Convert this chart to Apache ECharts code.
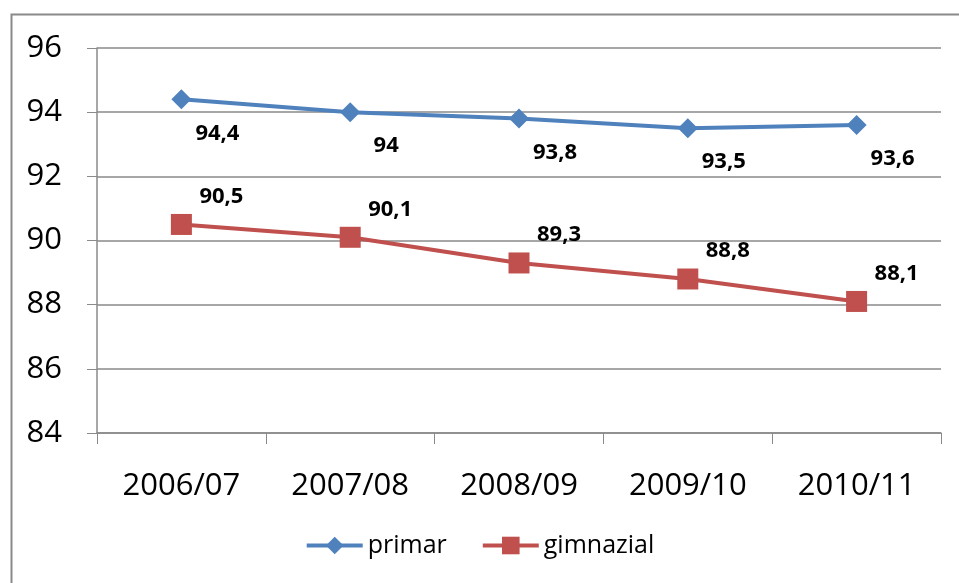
<!DOCTYPE html>
<html>
<head>
<meta charset="utf-8">
<script src="https://cdn.jsdelivr.net/npm/echarts@6/dist/echarts.min.js"></script>
<style>
  html, body { margin: 0; padding: 0; background: #fff; }
  #chart { width: 959px; height: 583px; }
</style>
</head>
<body>
<div id="chart"></div>
<script>
const years = ["2006/07", "2007/08", "2008/09", "2009/10", "2010/11"];
const primar = [94.4, 94, 93.8, 93.5, 93.6];
const gimnazial = [90.5, 90.1, 89.3, 88.8, 88.1];

const font = "'Open Sans', sans-serif";
const comma = (p) => String(p.value).replace(".", ",");

const chart = echarts.init(document.getElementById("chart"));
chart.setOption({
  animation: false,
  backgroundColor: "#fff",
  graphic: [{
    type: "rect",
    left: 9, top: 12,
    shape: { width: 1200, height: 900 },
    style: { fill: "none", stroke: "#8a8a8a", lineWidth: 2 },
    silent: true
  }],
  grid: { left: 97, right: 18, top: 48, bottom: 150 },
  legend: {
    bottom: 20,
    left: "center",
    itemWidth: 56,
    itemHeight: 22,
    itemGap: 34,
    lineStyle: { width: 4 },
    textStyle: { fontFamily: font, fontSize: 25, color: "#000" },
    data: ["primar", "gimnazial"]
  },
  xAxis: {
    type: "category",
    data: years,
    boundaryGap: true,
    axisLine: { lineStyle: { color: "#8a8a8a", width: 1.5 } },
    axisTick: { show: true, length: 11, lineStyle: { color: "#8a8a8a" } },
    axisLabel: { fontFamily: font, fontSize: 31, color: "#000", margin: 38 }
  },
  yAxis: {
    type: "value",
    min: 84, max: 96, interval: 2,
    axisLine: { show: true, lineStyle: { color: "#8a8a8a", width: 1.5 } },
    axisTick: { show: true, length: 10, lineStyle: { color: "#8a8a8a" } },
    splitLine: { lineStyle: { color: "#8a8a8a", width: 1.5 } },
    axisLabel: { fontFamily: font, fontSize: 31, color: "#000", margin: 35 }
  },
  series: [
    {
      name: "primar",
      type: "line",
      data: primar,
      symbol: "diamond",
      symbolSize: 20,
      color: "#4F81BD",
      lineStyle: { width: 4 },
      label: {
        show: true, position: "inside", offset: [36, 34],
        formatter: comma, fontFamily: font, fontSize: 22, fontWeight: "bold", color: "#000"
      }
    },
    {
      name: "gimnazial",
      type: "line",
      data: gimnazial,
      symbol: "rect",
      symbolSize: 21,
      color: "#C0504D",
      lineStyle: { width: 4 },
      label: {
        show: true, position: "inside", offset: [40, -28],
        formatter: comma, fontFamily: font, fontSize: 22, fontWeight: "bold", color: "#000"
      }
    }
  ]
});
</script>
</body>
</html>
